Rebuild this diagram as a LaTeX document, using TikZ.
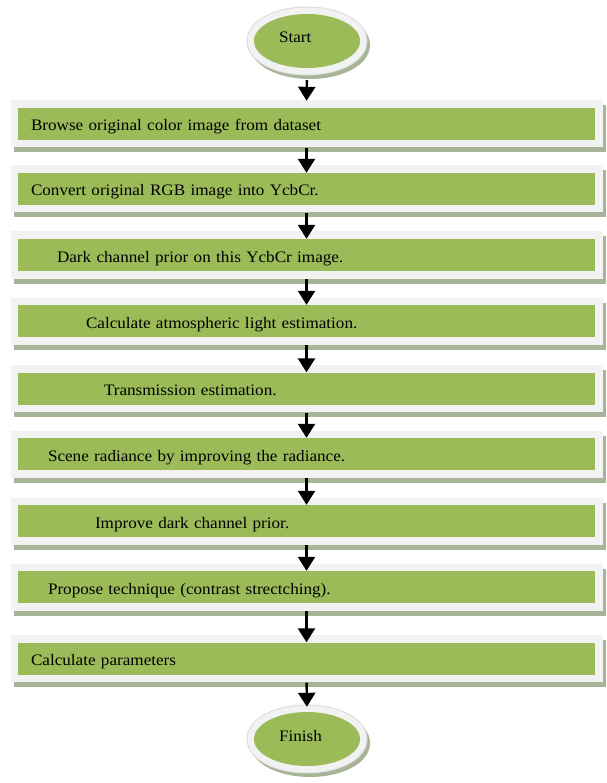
\documentclass[tikz,border=0pt]{standalone}
\usepackage{fontspec}
\setmainfont{Liberation Serif}[FakeStretch=1.07]
\usetikzlibrary{arrows.meta,shapes.geometric}
\definecolor{stepgreen}{RGB}{155,187,89}
\definecolor{framegray}{RGB}{242,242,242}
\definecolor{shadowgray}{RGB}{168,180,152}
\tikzset{
	stepbox/.style={fill=stepgreen,minimum height=32pt,text width=551pt,text height=17pt,text depth=3pt,inner xsep=13pt,inner ysep=0pt,align=left,font=\fontsize{16}{19}\selectfont,
		preaction={fill=shadowgray,draw=shadowgray,line width=15pt,transform canvas={shift={(3pt,-5pt)}}},
		preaction={draw=framegray,line width=15pt}},
	endbox/.style={ellipse,fill=stepgreen,minimum width=106pt,minimum height=54pt,inner sep=0pt,text width=56pt,text height=12pt,text depth=8pt,align=left,font=\fontsize{16}{19}\selectfont,
		preaction={fill=shadowgray,draw=shadowgray,line width=14pt,transform canvas={shift={(3pt,-4pt)}}},
		preaction={draw=black!14,line width=15pt},preaction={draw=framegray,line width=13pt}},
	flow/.style={line width=2.4pt}
}
\begin{document}
\begin{tikzpicture}[x=1pt,y=-1pt,line join=miter,>={Triangle[width=17pt,length=14pt]}]
	\useasboundingbox (0,0) rectangle (606,783);
	\node[endbox] (start) at (307,41) {Start};
	\foreach \i/\y/\ind/\txt in {1/124/0/{Browse original color image from dataset},2/189/0/{Convert original RGB image into YcbCr.},3/255/26/{Dark channel prior on this YcbCr image.},4/321/55/{Calculate atmospheric light estimation.},5/388.5/73/{Transmission estimation.},6/454/17/{Scene radiance by improving the radiance.},7/521/64/{Improve dark channel prior.},8/587/17/{Propose technique (contrast strectching).},9/658.5/0/{Calculate parameters}}
		{\node[stepbox] (s\i) at (306.5,\y) {\hspace*{\ind pt}\txt};}
	\node[endbox] (finish) at (307,739) {Finish};
	% arrows
	\draw[->,flow,shorten <=12pt,shorten >=7pt] (start.south) -- (s1.north);
	\foreach \i in {1,...,8}{\pgfmathtruncatemacro{\j}{\i+1}\draw[->,flow,shorten <=8pt] (s\i.south) -- (s\j.north);}
	\draw[->,flow,shorten <=8pt,shorten >=5pt] (s9.south) -- (finish.north);
\end{tikzpicture}
\end{document}
